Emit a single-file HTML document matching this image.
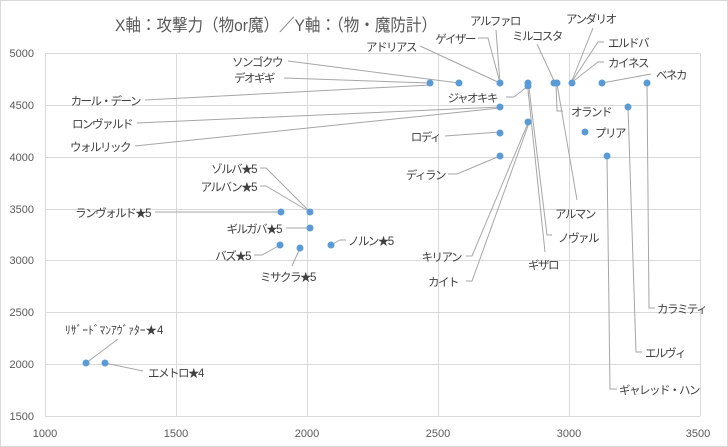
<!DOCTYPE html>
<html><head><meta charset="utf-8"><style>
html,body{margin:0;padding:0;background:#fff}
svg{display:block}
text{font-family:"Liberation Sans","Noto Sans CJK JP",sans-serif}
</style></head><body>
<svg width="728" height="447" viewBox="0 0 728 447">
<rect x="0.5" y="0.5" width="727" height="446" fill="#fff" stroke="#d9d9d9"/>
<text x="115" y="31" font-size="17" fill="#595959" textLength="322" lengthAdjust="spacingAndGlyphs">X軸：攻撃力（物or魔）／Y軸：（物・魔防計）</text>
<g stroke="#d9d9d9" stroke-width="1">
<line x1="45" y1="53.5" x2="700" y2="53.5"/><line x1="45" y1="105.5" x2="700" y2="105.5"/>
<line x1="45" y1="157.5" x2="700" y2="157.5"/><line x1="45" y1="209.5" x2="700" y2="209.5"/>
<line x1="45" y1="260.5" x2="700" y2="260.5"/><line x1="45" y1="312.5" x2="700" y2="312.5"/>
<line x1="45" y1="364.5" x2="700" y2="364.5"/><line x1="45" y1="416.5" x2="700" y2="416.5"/>
<line x1="45.5" y1="53" x2="45.5" y2="416"/><line x1="176.5" y1="53" x2="176.5" y2="416"/>
<line x1="307.5" y1="53" x2="307.5" y2="416"/><line x1="438.5" y1="53" x2="438.5" y2="416"/>
<line x1="569.5" y1="53" x2="569.5" y2="416"/><line x1="700.5" y1="53" x2="700.5" y2="416"/>
</g>
<g font-size="11" fill="#595959" text-anchor="end">
<text x="34" y="57">5000</text><text x="34" y="109">4500</text><text x="34" y="161">4000</text>
<text x="34" y="213">3500</text><text x="34" y="264">3000</text><text x="34" y="316">2500</text>
<text x="34" y="368">2000</text><text x="34" y="420">1500</text>
</g>
<g font-size="11" fill="#595959" text-anchor="middle">
<text x="45" y="437">1000</text><text x="176" y="437">1500</text><text x="307" y="437">2000</text>
<text x="438" y="437">2500</text><text x="569" y="437">3000</text><text x="698" y="437">3500</text>
</g>
<g stroke="#a6a6a6" stroke-width="1" fill="none">
<polyline points="288,61 459,83"/><polyline points="284,78 430,83"/>
<polyline points="145,100 430,85"/><polyline points="137,123 500,107"/><polyline points="135,146 500,108"/>
<polyline points="420,46 500,83"/><polyline points="478,38 488,38 500,83"/>
<polyline points="496,30 500,83"/><polyline points="537,44 555,83"/>
<polyline points="593,28 571,83"/><polyline points="604,42 598,42 571,83"/><polyline points="604,62 598,62 571,83"/>
<polyline points="651,74 602,83"/><polyline points="506,97 514,97 528,86"/>
<polyline points="563,111 557,111 556,84"/><polyline points="445,136 500,132"/>
<polyline points="448,174 457,174 500,156"/><polyline points="577,200 557,84"/>
<polyline points="552,235 547,235 529,88"/><polyline points="545,252 528,90"/>
<polyline points="466,256 472,256 528,123"/><polyline points="466,281 472,281 529,123"/>
<polyline points="655,308 649,308 647,83"/><polyline points="642,352 636,352 628,107"/>
<polyline points="617,389 610,389 607,156"/>
<polyline points="260,168 266,168 310,212"/><polyline points="260,186 266,186 310,212"/>
<polyline points="155,212 281,212"/><polyline points="286,228 310,228"/>
<polyline points="254,255 262,255 280,245"/><polyline points="292,266 300,248"/>
<polyline points="346,240 340,240 331,245"/><polyline points="118,339 86,363"/>
<polyline points="143,371 105,363"/>
</g>
<g fill="#5b9bd5">
<circle cx="430" cy="83" r="3.5"/><circle cx="459" cy="83" r="3.5"/><circle cx="500" cy="83" r="3.5"/>
<circle cx="528" cy="83" r="3.5"/><circle cx="528" cy="86" r="3.5"/><circle cx="554" cy="83" r="3.5"/><circle cx="557" cy="83" r="3.5"/>
<circle cx="572" cy="83" r="3.5"/><circle cx="602" cy="83" r="3.5"/><circle cx="647" cy="83" r="3.5"/>
<circle cx="500" cy="107" r="3.5"/><circle cx="628" cy="107" r="3.5"/><circle cx="528" cy="122" r="3.5"/>
<circle cx="500" cy="133" r="3.5"/><circle cx="585" cy="132" r="3.5"/><circle cx="500" cy="156" r="3.5"/>
<circle cx="607" cy="156" r="3.5"/><circle cx="281" cy="212" r="3.5"/><circle cx="310" cy="212" r="3.5"/>
<circle cx="310" cy="228" r="3.5"/><circle cx="280" cy="245" r="3.5"/><circle cx="300" cy="248" r="3.5"/>
<circle cx="331" cy="245" r="3.5"/><circle cx="86" cy="363" r="3.5"/><circle cx="105" cy="363" r="3.5"/>
</g>
<g font-size="11.5" fill="#404040" letter-spacing="-1.5">
<text x="282" y="66" text-anchor="end">ソンゴクウ</text>
<text x="274" y="82" text-anchor="end">デオギギ</text>
<text x="140" y="105" text-anchor="end">カール・デーン</text>
<text x="132" y="128" text-anchor="end">ロンヴァルド</text>
<text x="130" y="151" text-anchor="end">ウォルリック</text>
<text x="416" y="51" text-anchor="end">アドリアス</text>
<text x="475" y="43" text-anchor="end">ゲイザー</text>
<text x="470" y="25">アルファロ</text>
<text x="512" y="40">ミルコスタ</text>
<text x="566" y="23">アンダリオ</text>
<text x="608" y="47">エルドバ</text>
<text x="608" y="67">カイネス</text>
<text x="656" y="79">ベネカ</text>
<text x="497" y="102" text-anchor="end">ジャオキキ</text>
<text x="571" y="116">オランド</text>
<text x="440" y="141" text-anchor="end">ロディ</text>
<text x="595" y="137">プリア</text>
<text x="445" y="179" text-anchor="end">ディラン</text>
<text x="555" y="218">アルマン</text>
<text x="558" y="242">ノヴァル</text>
<text x="528" y="269">ギザロ</text>
<text x="461" y="261" text-anchor="end">キリアン</text>
<text x="458" y="286" text-anchor="end">カイト</text>
<text x="657" y="313">カラミティ</text>
<text x="645" y="357">エルヴィ</text>
<text x="619" y="394">ギャレッド・ハン</text>
<text x="256" y="173" text-anchor="end">ゾルバ★5</text>
<text x="256" y="191" text-anchor="end">アルバン★5</text>
<text x="150" y="217" text-anchor="end">ランヴォルド★5</text>
<text x="281" y="233" text-anchor="end">ギルガバ★5</text>
<text x="250" y="260" text-anchor="end">バズ★5</text>
<text x="260" y="281">ミサクラ★5</text>
<text x="348" y="245">ノルン★5</text>
<text x="65" y="334" letter-spacing="0">ﾘｻﾞｰﾄﾞﾏﾝｱｳﾞｧﾀｰ★4</text>
<text x="148" y="377">エメトロ★4</text>
</g>
</svg>
</body></html>
